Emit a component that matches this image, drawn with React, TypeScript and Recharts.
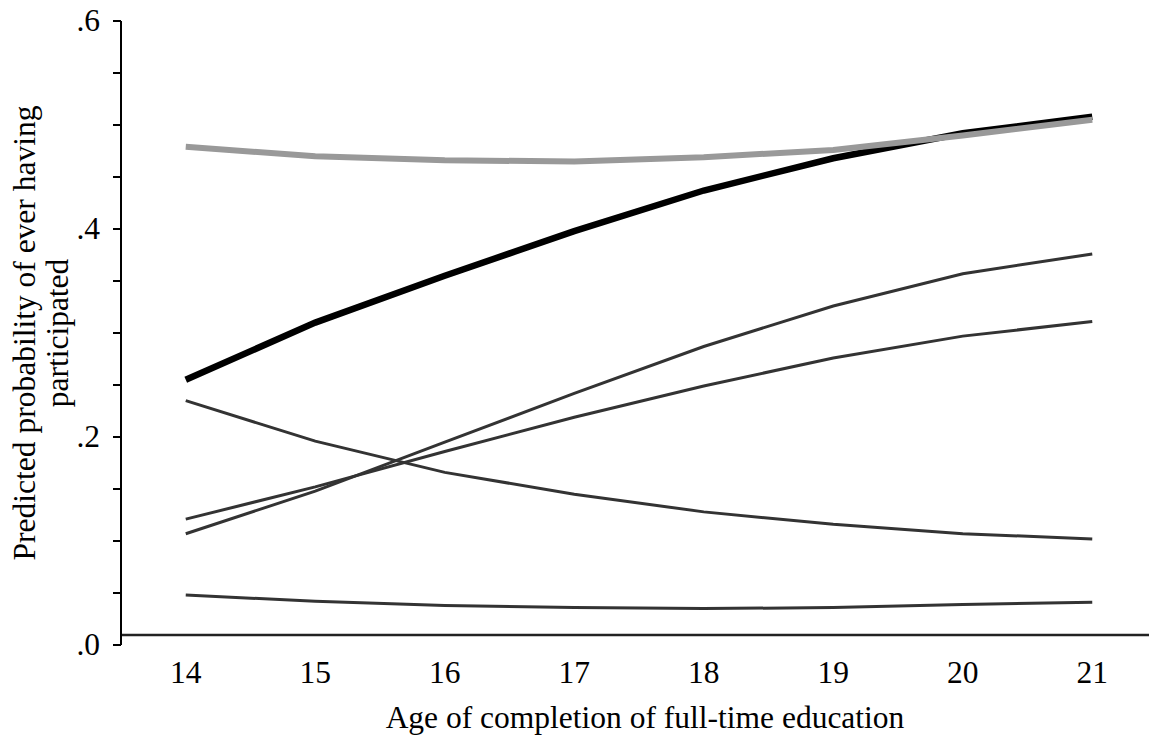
import React from 'react';
import { LineChart, Line, XAxis, YAxis, ReferenceLine, Label } from 'recharts';

const AGES = [14, 15, 16, 17, 18, 19, 20, 21];
const BLACK_SERIES = [0.255, 0.31, 0.355, 0.398, 0.437, 0.468, 0.492, 0.508];
const GRAY_SERIES = [0.479, 0.47, 0.466, 0.465, 0.469, 0.476, 0.49, 0.505];
const STEEP_SERIES = [0.107, 0.148, 0.195, 0.242, 0.287, 0.326, 0.357, 0.376];
const SHALLOW_SERIES = [0.121, 0.152, 0.186, 0.219, 0.249, 0.276, 0.297, 0.311];
const FALLING_SERIES = [0.235, 0.196, 0.166, 0.145, 0.128, 0.116, 0.107, 0.102];
const BOTTOM_SERIES = [0.048, 0.042, 0.038, 0.036, 0.035, 0.036, 0.039, 0.041];

const Y_TICK_VALUES = [0, 0.05, 0.1, 0.15, 0.2, 0.25, 0.3, 0.35, 0.4, 0.45, 0.5, 0.55, 0.6];
const Y_TICK_LABELS = ['.0', '', '', '', '.2', '', '', '', '.4', '', '', '', '.6'];
const X_TICKS = AGES;
const X_AXIS_LEVEL = 0.0096;

const X_TITLE = 'Age of completion of full-time education';
const Y_TITLE_LINE1 = 'Predicted probability of ever having';
const Y_TITLE_LINE2 = 'participated';

const data = AGES.map((age, i) => ({
  age,
  black: BLACK_SERIES[i],
  gray: GRAY_SERIES[i],
  steep: STEEP_SERIES[i],
  shallow: SHALLOW_SERIES[i],
  falling: FALLING_SERIES[i],
  bottom: BOTTOM_SERIES[i],
}));

const FONT = '"Liberation Serif", "Times New Roman", serif';
const FS = 31.5;

const XTick = (props: any) => {
  const { x, y, payload } = props;
  return (
    <text x={x} y={y + 30} textAnchor="middle" fontFamily={FONT} fontSize={FS} fill="#000">
      {payload.value}
    </text>
  );
};

const YTick = (props: any) => {
  const { x, y, payload } = props;
  const idx = Y_TICK_VALUES.findIndex((v) => Math.abs(v - payload.value) < 1e-9);
  const label = idx >= 0 ? Y_TICK_LABELS[idx] : '';
  if (!label) return <g />;
  return (
    <text x={x} y={y} dy={10} textAnchor="end" fontFamily={FONT} fontSize={FS} fill="#000">
      {label}
    </text>
  );
};

const YTitle = (props: any) => {
  const vb = props.viewBox || { x: 0, y: 0, width: 0, height: 0 };
  const cy = vb.y + vb.height / 2;
  const cx = 27;
  return (
    <text
      transform={`rotate(-90, ${cx}, ${cy})`}
      x={cx}
      y={cy}
      textAnchor="middle"
      fontFamily={FONT}
      fontSize={FS}
      fill="#000"
    >
      <tspan x={cx} dy={0}>{Y_TITLE_LINE1}</tspan>
      <tspan x={cx} dy={33}>{Y_TITLE_LINE2}</tspan>
    </text>
  );
};

const XTitle = (props: any) => {
  const vb = props.viewBox || { x: 0, y: 0, width: 0, height: 0 };
  return (
    <text
      x={vb.x + vb.width / 2 + 6}
      y={vb.y + 83}
      textAnchor="middle"
      fontFamily={FONT}
      fontSize={FS}
      fill="#000"
    >
      {X_TITLE}
    </text>
  );
};

export default function App() {
  return (
    <div style={{ width: 1149, height: 736, background: '#fff' }}>
      <LineChart
        width={1149}
        height={736}
        data={data}
        margin={{ top: 13, right: 0, bottom: 0, left: 0 }}
      >
        <XAxis
          dataKey="age"
          type="number"
          domain={[13.5, 21.5]}
          ticks={X_TICKS}
          interval={0}
          axisLine={false}
          tickLine={false}
          height={99}
          tick={<XTick />}
        >
          <Label content={<XTitle />} />
        </XAxis>
        <YAxis
          type="number"
          domain={[0, 0.6]}
          ticks={Y_TICK_VALUES}
          interval={0}
          width={113}
          tickSize={8}
          tickMargin={13}
          axisLine={{ stroke: '#000', strokeWidth: 2 }}
          tickLine={{ stroke: '#000', strokeWidth: 2 }}
          tick={<YTick />}
        >
          <Label content={<YTitle />} />
        </YAxis>
        <ReferenceLine y={X_AXIS_LEVEL} stroke="#222" strokeWidth={2.5} />
        <Line dataKey="bottom" stroke="#333" strokeWidth={3} dot={false} isAnimationActive={false} />
        <Line dataKey="falling" stroke="#333" strokeWidth={3} dot={false} isAnimationActive={false} />
        <Line dataKey="shallow" stroke="#333" strokeWidth={3} dot={false} isAnimationActive={false} />
        <Line dataKey="steep" stroke="#333" strokeWidth={3} dot={false} isAnimationActive={false} />
        <Line dataKey="black" stroke="#000" strokeWidth={6.5} dot={false} isAnimationActive={false} />
        <Line dataKey="gray" stroke="#999" strokeWidth={6} dot={false} isAnimationActive={false} />
      </LineChart>
    </div>
  );
}
